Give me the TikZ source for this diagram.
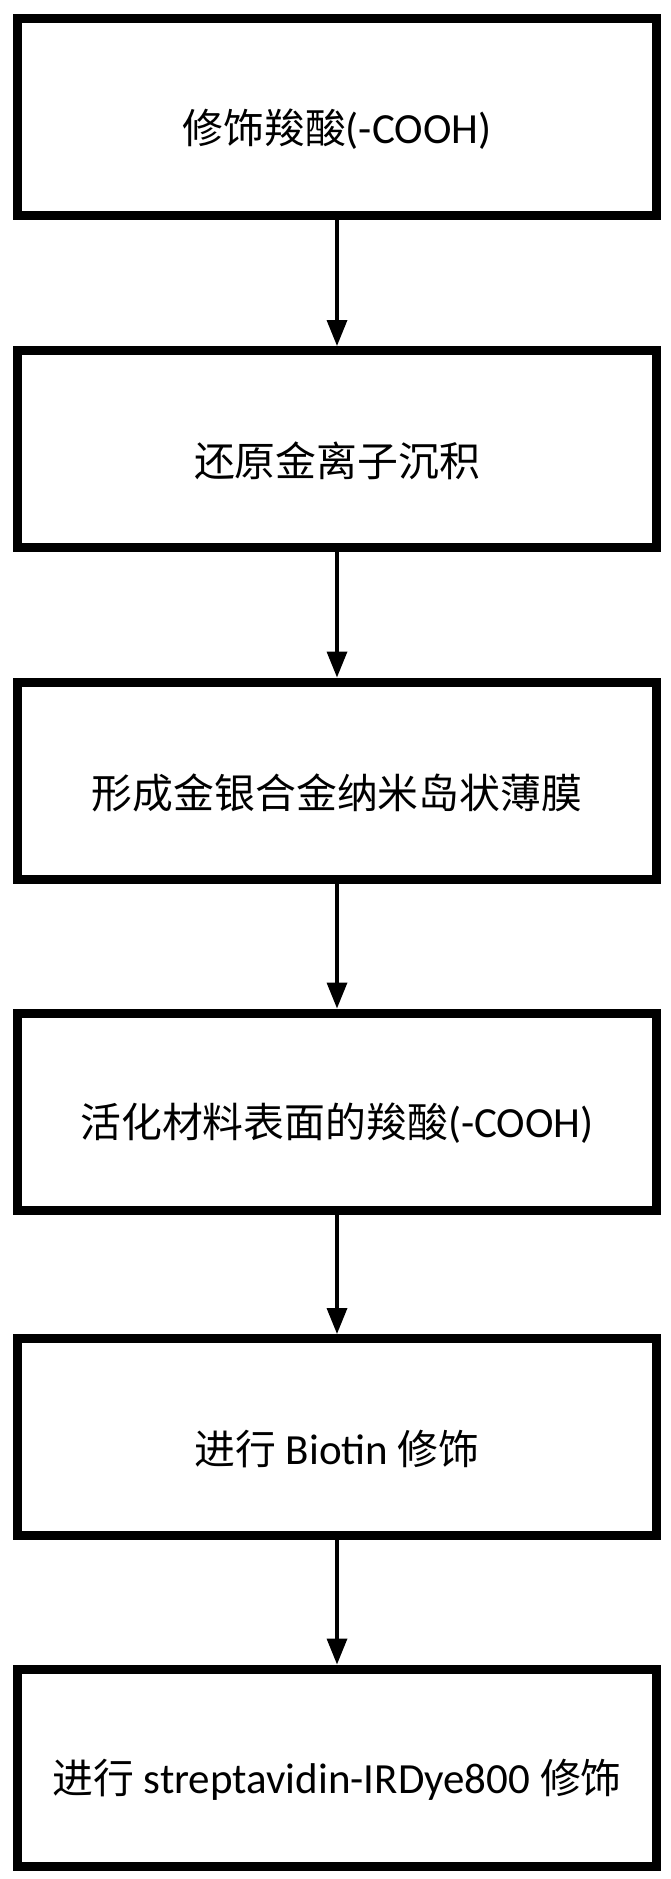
\documentclass[tikz,border=0pt]{standalone}
\usepackage{fontspec}
\setmainfont{Carlito}
\newfontfamily\cjk{Noto Sans CJK SC}[Scale=0.95]
\usetikzlibrary{arrows.meta}
\begin{document}
\begin{tikzpicture}[x=1pt,y=-1pt,
  stepbox/.style={draw,line width=9pt,minimum width=639pt,minimum height=197pt,inner sep=0pt},
  lbl/.style={font=\fontsize{43}{50}\selectfont,inner sep=0pt},
  flow/.style={line width=3.5pt,-{Triangle[length=26pt,width=20pt]}}]
\useasboundingbox (0,0) rectangle (671,1879);
\foreach \n/\y in {b1/117,b2/449,b3/780.5,b4/1111.5,b5/1437,b6/1767.5}
  \node[stepbox] (\n) at (337,\y) {};
\node[lbl] (t1) at ([yshift=-12pt]b1.center) {{\cjk 修饰羧酸}(-COOH)};
\node[lbl] (t2) at ([yshift=-12pt]b2.center) {\cjk 还原金离子沉积};
\node[lbl] (t3) at ([yshift=-12pt]b3.center) {\cjk 形成金银合金纳米岛状薄膜};
\node[lbl] (t4) at ([yshift=-12pt]b4.center) {{\cjk 活化材料表面的羧酸}(-COOH)};
\node[lbl] (t5) at ([yshift=-12pt]b5.center) {{\cjk 进行} Biotin {\cjk 修饰}};
\node[lbl] (t6) at ([yshift=-12pt]b6.center) {{\cjk 进行} streptavidin-IRDye800 {\cjk 修饰}};
\foreach \a/\b in {b1/b2,b2/b3,b3/b4,b4/b5,b5/b6}
  \draw[flow] (\a.south) -- (\b.north);
\end{tikzpicture}
\end{document}
